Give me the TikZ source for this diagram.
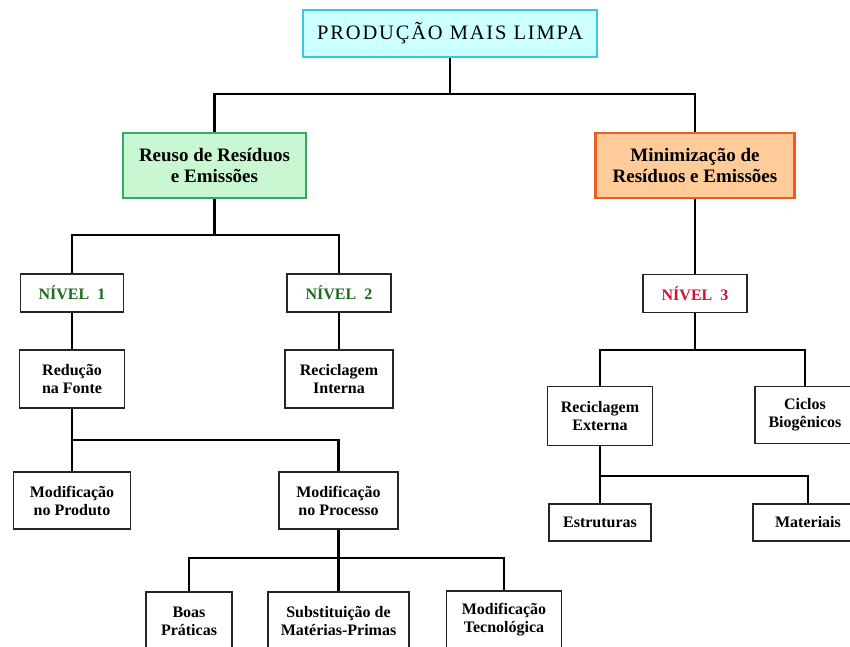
\documentclass[tikz,border=0pt]{standalone}
\usepackage{fontspec}
\setmainfont{Liberation Serif}
\newfontfamily\topfont[LetterSpace=9]{Liberation Serif}
\definecolor{cyanb}{HTML}{33CCDD}
\definecolor{cyanf}{HTML}{CCFFFF}
\definecolor{greenb}{HTML}{33AA66}
\definecolor{greenf}{HTML}{C8F7D2}
\definecolor{orab}{HTML}{F05A1E}
\definecolor{oraf}{HTML}{FFCC99}
\definecolor{nivgreen}{HTML}{1E6B1E}
\definecolor{nivred}{HTML}{CC1133}
\tikzset{
  conn/.style={line width=2.6pt, draw=black},
  box/.style={draw=black!85, line width=1.3pt, fill=white, inner sep=0pt, align=center,
    font=\bfseries\fontsize{16}{18}\selectfont},
  bigbox/.style={line width=2.6pt, inner sep=0pt, align=center,
    font=\bfseries\fontsize{19}{21}\selectfont},
}
\begin{document}
\begin{tikzpicture}[x=1pt,y=-1pt]
\useasboundingbox (0,0) rectangle (850,646);
\clip (0,0) rectangle (850,646);
% nodes
\node[draw=cyanb, fill=cyanf, line width=2.6pt, minimum width=294pt, minimum height=47pt, inner sep=0pt,
  font=\topfont\fontsize{20.5}{23}\selectfont] (top) at (450,33.5) {PRODUÇÃO MAIS LIMPA};
\node[bigbox, draw=greenb, fill=greenf, minimum width=183pt, minimum height=65pt] (reuso) at (214.5,165.5)
  {Reuso de Resíduos\\e Emissões};
\node[bigbox, draw=orab, fill=oraf, minimum width=199pt, minimum height=65pt] (mini) at (695,165.5)
  {Minimização de\\Resíduos e Emissões};
\node[box, minimum width=103pt, minimum height=38pt, text=nivgreen] (n1) at (72,293) {NÍVEL\ \ 1};
\node[box, minimum width=104pt, minimum height=38pt, text=nivgreen] (n2) at (339,293) {NÍVEL\ \ 2};
\node[box, minimum width=104pt, minimum height=38pt, text=nivred] (n3) at (695,293.5) {NÍVEL\ \ 3};
\node[box, minimum width=105pt, minimum height=58pt] (red) at (72,379) {Redução\\na Fonte};
\node[box, minimum width=108pt, minimum height=58pt] (recint) at (339,379) {Reciclagem\\Interna};
\node[box, minimum width=105pt, minimum height=59pt] (recext) at (600,416) {Reciclagem\\Externa};
\node[box, minimum width=100pt, minimum height=57pt] (cic) at (805,415) {Ciclos\\Biogênicos};
\node[box, minimum width=117pt, minimum height=57pt] (prod) at (72,500.5) {Modificação\\no Produto};
\node[box, minimum width=119pt, minimum height=57pt] (proc) at (338.5,500.5) {Modificação\\no Processo};
\node[box, minimum width=102pt, minimum height=37pt] (est) at (600,522.5) {Estruturas};
\node[box, minimum width=110pt, minimum height=37pt] (mat) at (808,522.5) {Materiais};
\node[box, minimum width=86pt, minimum height=58pt] (boas) at (189,621) {Boas\\Práticas};
\node[box, minimum width=141pt, minimum height=58pt] (sub) at (338.5,621) {Substituição de\\Matérias-Primas};
\node[box, minimum width=115pt, minimum height=58pt] (tec) at (504,620) {Modificação\\Tecnológica};
% junctions
\coordinate (j0) at (450,94);
\coordinate (j1) at (214.5,235);
\coordinate (j2) at (695,350);
\coordinate (j3) at (72,440);
\coordinate (j4) at (338.5,558);
\coordinate (j5) at (600,476);
% connectors
\draw[conn] (top.south) -- (j0);
\draw[conn] (reuso.north) |- (j0) -| (mini.north);
\draw[conn] (reuso.south) -- (j1);
\draw[conn] (n1.north) |- (j1) -| (n2.north);
\draw[conn] (n1.south) -- (red.north);
\draw[conn] (n2.south) -- (recint.north);
\draw[conn] (mini.south) -- (n3.north);
\draw[conn] (n3.south) -- (j2);
\draw[conn] (recext.north) |- (j2) -| (cic.north);
\draw[conn] (red.south) -- (j3) -| (proc.north);
\draw[conn] (j3) -- (prod.north);
\draw[conn] (proc.south) -- (j4);
\draw[conn] (boas.north) |- (j4) -| (tec.north);
\draw[conn] (j4) -- (sub.north);
\draw[conn] (recext.south) -- (j5) -| (mat.north);
\draw[conn] (j5) -- (est.north);
\end{tikzpicture}
\end{document}
